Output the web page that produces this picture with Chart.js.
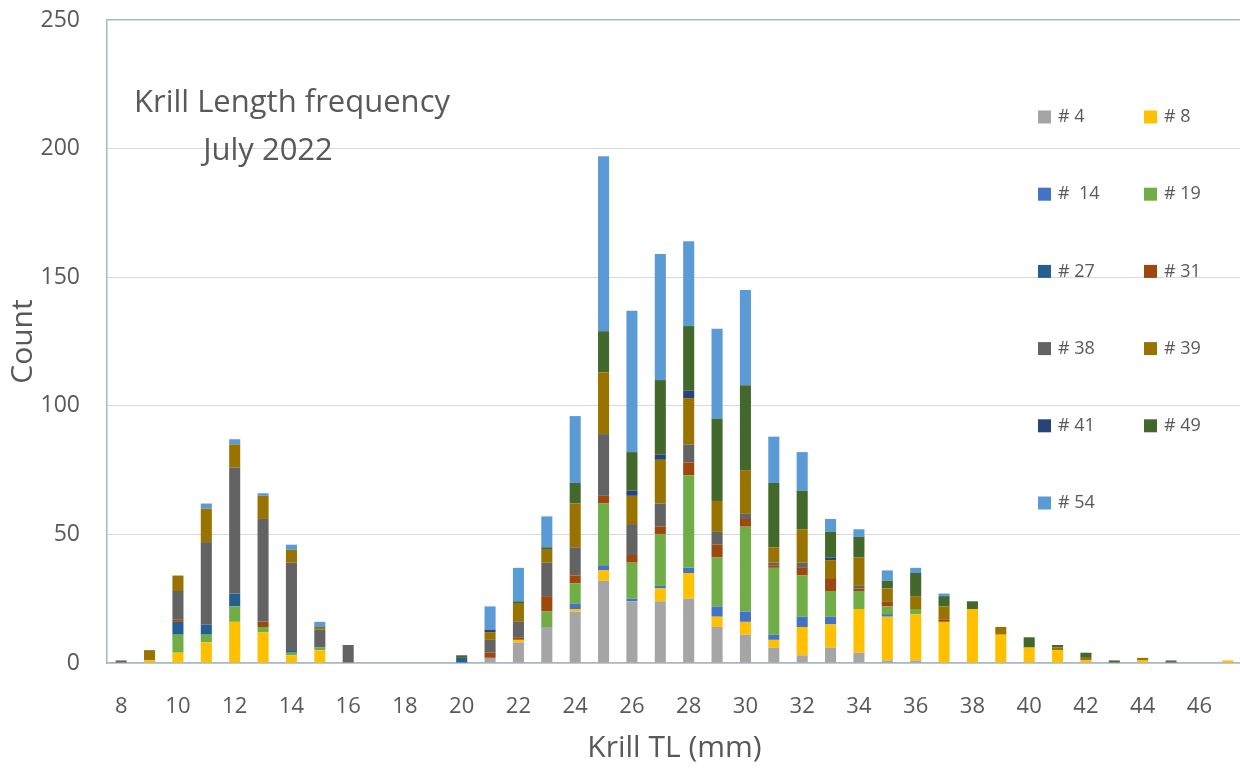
<!DOCTYPE html>
<html>
<head>
<meta charset="utf-8">
<script src="https://cdn.jsdelivr.net/npm/chart.js@4/dist/chart.umd.min.js"></script>
<style>
    html, body { margin: 0; padding: 0; background: #fff; overflow: hidden; }
    #wrap { position: relative; width: 1242px; height: 771px; }
</style>
</head>
<body>
<div id="wrap"><canvas id="krillChart" width="1242" height="771"></canvas></div>
<script>
// Length classes (mm)
const lengths = ['8','9','10','11','12','13','14','15','16','17','18','19','20','21','22','23','24','25','26','27',
                 '28','29','30','31','32','33','34','35','36','37','38','39','40','41','42','43','44','45','46','47'];

// Counts per station, one value per length class
const st4  = [0,0,0,0,0,0,0,0,0,0, 0,0,0,2,8,14,20,32,24,24, 25,14,11,6,3,6,4,1,1,0, 0,0,0,0,0,0,0,0,0,0];
const st8  = [0,1,4,8,16,12,3,5,0,0, 0,0,0,0,1,0,1,4,0,5, 10,4,5,3,11,9,17,17,18,16, 21,11,6,5,1,0,1,0,0,1];
const st14 = [0,0,0,0,0,0,0,0,0,0, 0,0,0,0,0,0,2,2,1,1, 2,4,4,2,4,3,0,1,0,0, 0,0,0,0,0,0,0,0,0,0];
const st19 = [0,0,7,3,6,2,1,1,0,0, 0,0,0,0,0,6,8,24,14,20, 36,19,33,26,16,10,7,3,2,0, 0,0,0,0,0,0,0,0,0,0];
const st27 = [0,0,5,4,5,0,1,0,0,0, 0,0,2,0,0,0,0,0,0,0, 0,0,0,0,0,0,0,0,0,0, 0,0,0,0,0,0,0,0,0,0];
const st31 = [0,0,1,0,0,2,0,0,0,0, 0,0,0,2,1,6,3,3,3,3, 5,5,3,1,3,5,1,2,0,1, 0,0,0,0,0,0,0,0,0,0];
const st38 = [1,0,11,32,49,40,34,7,7,0, 0,0,0,5,6,13,11,24,12,9, 7,5,2,1,2,0,1,0,0,0, 0,0,0,0,0,0,0,1,0,0];
const st39 = [0,4,6,13,9,9,5,1,0,0, 0,0,0,3,7,5,17,24,11,17, 18,12,17,6,13,7,11,5,5,5, 0,3,0,1,1,0,1,0,0,0];
const st41 = [0,0,0,0,0,0,0,0,0,0, 0,0,0,1,0,0,0,0,2,2, 3,0,0,0,0,1,0,0,0,0, 0,0,0,0,0,0,0,0,0,0];
const st49 = [0,0,0,0,0,0,0,0,0,0, 0,0,1,0,1,1,8,16,15,29, 25,32,33,25,15,10,8,3,9,4, 3,0,4,1,2,1,0,0,0,0];
const st54 = [0,0,0,2,2,1,2,2,0,0, 0,0,0,9,13,12,26,68,55,49, 33,35,37,18,15,5,3,4,2,1, 0,0,0,0,0,0,0,0,0,0];

const stationNames = ['# 4', '# 8', '#  14', '# 19', '# 27', '# 31', '# 38', '# 39', '# 41', '# 49', '# 54'];
const stationData = [st4, st8, st14, st19, st27, st31, st38, st39, st41, st49, st54];
const stationColors = ['#a5a5a5', '#ffc000', '#4472c4', '#70ad47', '#255e91', '#9e480e',
                       '#636363', '#997300', '#264478', '#43682b', '#5b9bd5'];

const yTicks = [0, 50, 100, 150, 200, 250];

const textColor = '#595959';
const fontName = "'Open Sans', 'Noto Sans', sans-serif";

// Title drawn inside the plot area
const titlePlugin = {
    id: 'insideTitle',
    afterDraw(chart) {
        const ctx = chart.ctx;
        ctx.save();
        ctx.fillStyle = textColor;
        ctx.font = '31px ' + fontName;
        ctx.textAlign = 'center';
        ctx.textBaseline = 'alphabetic';
        ctx.fillText('Krill Length frequency', 292, 112);
        ctx.fillText('July 2022', 268, 160);
        ctx.restore();
    }
};

// Two-column legend on the right side of the plot
const legendPlugin = {
    id: 'gridLegend',
    afterDraw(chart) {
        const ctx = chart.ctx;
        const colX = [1038, 1144];
        const rowY0 = 117, rowStep = 77.2;
        ctx.save();
        ctx.font = '18px ' + fontName;
        ctx.textAlign = 'left';
        ctx.textBaseline = 'middle';
        chart.data.datasets.forEach((ds, i) => {
            const x = colX[i % 2];
            const y = rowY0 + Math.floor(i / 2) * rowStep;
            ctx.fillStyle = ds.backgroundColor;
            ctx.fillRect(x, y - 6.5, 13, 13);
            ctx.fillStyle = textColor;
            ctx.fillText(ds.label, x + 20, y);
        });
        ctx.restore();
    }
};

const datasets = stationNames.map((name, i) => ({
    label: name,
    data: stationData[i],
    backgroundColor: stationColors[i],
    borderWidth: 0,
    categoryPercentage: 1.0,
    barPercentage: 0.39
}));

new Chart(document.getElementById('krillChart'), {
    type: 'bar',
    data: { labels: lengths, datasets: datasets },
    options: {
        responsive: false,
        animation: false,
        layout: { padding: { top: 20, right: 0, bottom: 0, left: 0 } },
        plugins: {
            legend: { display: false },
            tooltip: { enabled: false }
        },
        scales: {
            x: {
                stacked: true,
                grid: { display: false },
                border: { display: true, color: '#a3b9c5', width: 1.5 },
                ticks: {
                    autoSkip: false,
                    maxRotation: 0,
                    padding: 23,
                    color: textColor,
                    font: { family: fontName, size: 22 },
                    callback: function(val, index) {
                        return index % 2 === 0 ? this.getLabelForValue(val) : '';
                    }
                },
                title: {
                    display: true,
                    text: 'Krill TL (mm)',
                    color: textColor,
                    font: { family: fontName, size: 30 },
                    padding: { top: 0, bottom: 5 }
                },
                afterFit(scale) {
                    scale.height = 108;
                    scale.paddingLeft = 0;
                    scale.paddingRight = 0;
                }
            },
            y: {
                stacked: true,
                min: 0,
                max: 250,
                afterBuildTicks(scale) { scale.ticks = yTicks.map(v => ({ value: v })); },
                grid: {
                    drawTicks: false,
                    color: ctx => (ctx.tick && ctx.tick.value === 250) ? '#a3b9c5' : '#d9d9d9',
                    lineWidth: ctx => (ctx.tick && ctx.tick.value === 250) ? 1.5 : 1
                },
                border: { display: true, color: '#a3b9c5', width: 1.5 },
                ticks: {
                    padding: 27,
                    color: textColor,
                    font: { family: fontName, size: 23 }
                },
                title: {
                    display: true,
                    text: 'Count',
                    color: textColor,
                    font: { family: fontName, size: 30 },
                    padding: { top: 5, bottom: 0 }
                },
                afterFit(scale) {
                    scale.width = 107;
                    scale.paddingTop = 0;
                    scale.paddingBottom = 0;
                }
            }
        }
    },
    plugins: [titlePlugin, legendPlugin]
});
</script>
</body>
</html>
